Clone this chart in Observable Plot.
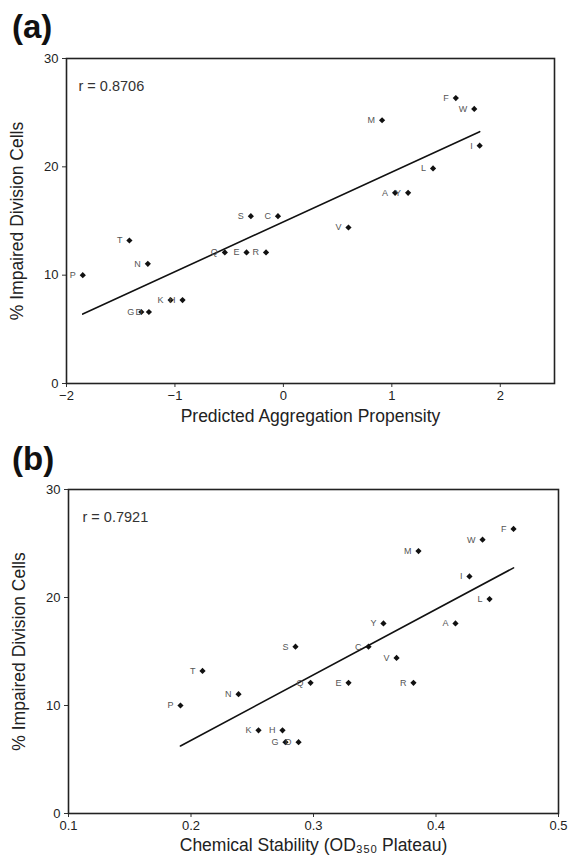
<!DOCTYPE html>
<html><head><meta charset="utf-8">
<script src="https://cdn.jsdelivr.net/npm/d3@7"></script>
<script src="https://cdn.jsdelivr.net/npm/@observablehq/plot@0.6"></script>
<style>
body{margin:0;background:#fff;}
#wrap{position:relative;width:571px;height:861px;overflow:hidden;background:#fff;font-family:"Liberation Sans",Arial,sans-serif;}
.panel{position:absolute;left:0;}
.tag{position:absolute;left:12px;font-weight:bold;font-size:33px;line-height:33px;color:#111;z-index:5;}
</style></head><body><div id="wrap"></div>
<script>
// amino-acid substitutions (labels next to points)
const mutants = ["P","T","N","G","D","K","H","Q","E","R","S","C","V","M","A","Y","L","F","W","I"];
// % impaired division cells (shared y of both panels)
const impairedPct = [10.0,13.2,11.05,6.6,6.6,7.7,7.7,12.1,12.1,12.1,15.45,15.45,14.4,24.3,17.6,17.6,19.85,26.35,25.35,21.95];
// panel (a): predicted aggregation propensity
const aggregation = [-1.85,-1.42,-1.25,-1.31,-1.24,-1.04,-0.93,-0.54,-0.34,-0.16,-0.30,-0.05,0.60,0.91,1.03,1.15,1.38,1.59,1.76,1.81];
// panel (b): chemical stability (OD plateau)
const stability = [0.1914,0.2094,0.2388,0.2771,0.2878,0.2551,0.2747,0.2976,0.3286,0.3816,0.2853,0.3449,0.3678,0.3857,0.4159,0.3571,0.4437,0.4633,0.4380,0.4273];

const yTicks = [0,10,20,30];
const aTicks = [-2,-1,0,1,2];
const bTicks = [0.1,0.2,0.3,0.4,0.5];
const panelTags = ["(a)","(b)"];
const rTexts = ["r = 0.8706","r = 0.7921"];
const yTitle = "% Impaired Division Cells";
const xTitles = ["Predicted Aggregation Propensity","Chemical Stability (OD\u2083\u2085\u2080 Plateau)"];

const rows = mutants.map((m,i)=>({m, y: impairedPct[i], a: aggregation[i], b: stability[i]}));

function panel(o){
  return Plot.plot({
    width: 571, height: o.height,
    marginLeft: o.ml, marginRight: o.mr, marginTop: o.mt, marginBottom: o.mb,
    style: {fontFamily: "Liberation Sans, Arial, sans-serif", fontSize: "13px", color: "#222", background: "transparent", overflow: "visible"},
    x: {domain: o.domain},
    y: {domain: [0,30]},
    marks: [
      Plot.axisY(yTicks, {tickSize: 4, tickPadding: 4, label: null, stroke: "#333"}),
      Plot.axisX(o.ticks, {tickSize: 4, tickPadding: 3, label: null, tickFormat: o.fmt, stroke: "#333"}),
      Plot.linearRegressionY(rows, {x: o.key, y: "y", ci: 0, stroke: "#111", strokeWidth: 1.6}),
      Plot.dot(rows, {x: o.key, y: "y", symbol: "diamond2", r: 2.8, fill: "#111", stroke: "none"}),
      Plot.text(rows, {x: o.key, y: "y", text: "m", dx: -7, textAnchor: "end", fontSize: 9, fill: "#555"}),
      Plot.text([o.r], {frameAnchor: "top-left", dx: o.rdx, dy: 22, textAnchor: "start", fontSize: 14.5, fill: "#333"}),
      Plot.text([o.xTitle], {frameAnchor: "bottom", textAnchor: "middle", dy: o.tdy, fontSize: 17.5, fill: "#222"}),
      Plot.text([yTitle], {frameAnchor: "left", textAnchor: "middle", rotate: -90, dx: -49, fontSize: 17.5, fill: "#222"}),
      Plot.frame({stroke: "#222", strokeWidth: 1.6})
    ]
  });
}

const wrap = document.getElementById("wrap");
const pa = panel({height: 400, ml: 66, mr: 17, mt: 18, mb: 57, domain: [-2,2.5], ticks: aTicks, fmt: d3.format("d"), key: "a", r: rTexts[0], rdx: 12, xTitle: xTitles[0], tdy: 38});
pa.classList.add("panel"); pa.style.top = "40px";
wrap.appendChild(pa);
const pb = panel({height: 416, ml: 68, mr: 13, mt: 44, mb: 48, domain: [0.1,0.5], ticks: bTicks, fmt: d3.format(".1f"), key: "b", r: rTexts[1], rdx: 14, xTitle: xTitles[1], tdy: 37});
pb.classList.add("panel"); pb.style.top = "445px";
wrap.appendChild(pb);

panelTags.forEach((t,i)=>{
  const d = document.createElement("div");
  d.className = "tag"; d.textContent = t;
  d.style.top = (i === 0 ? 10 : 442) + "px";
  wrap.appendChild(d);
});
</script></body></html>
